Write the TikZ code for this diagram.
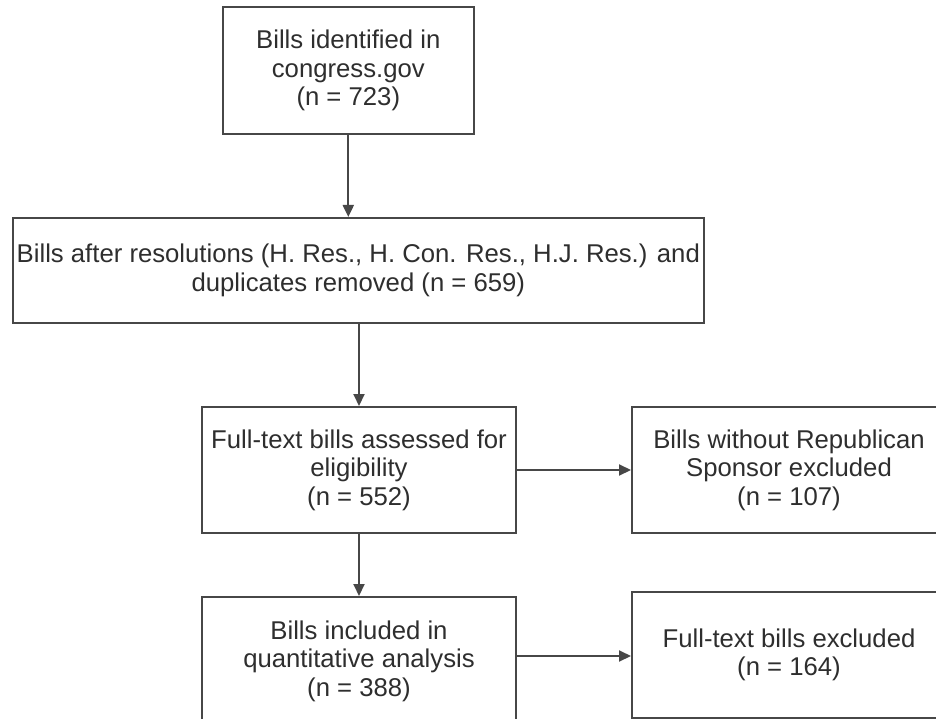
\documentclass[tikz,border=0pt]{standalone}
\usepackage{fontspec}
\setmainfont{Liberation Sans}
\usetikzlibrary{arrows.meta}
\definecolor{linec}{HTML}{474747}
\definecolor{textc}{HTML}{2E2E2E}
\tikzset{
  box/.style={draw=linec, line width=2pt, fill=white, align=center, text=textc,
    font=\fontsize{25.7pt}{28.6pt}\selectfont, inner sep=0pt},
  conn/.style={draw=linec, line width=2pt, -{Triangle[length=12pt,width=11pt]}}
}
\begin{document}
\begin{tikzpicture}[x=1pt,y=-1pt]
\useasboundingbox[fill=white] (0,0) rectangle (936,719);
\clip (0,0) rectangle (936,719);
\node[box, minimum width=251pt, minimum height=127pt] (a) at (348.3,70.5)
  {Bills identified in\\congress.gov\\(n = 723)};
\node[box, minimum width=691pt, minimum height=105pt] (b) at (358.3,270.5)
  {Bills after resolutions (H. Res., H. Con. Res., H.J. Res.) and\\duplicates removed (n = 659)};
\node[box, minimum width=314pt, minimum height=126pt] (c) at (359,470)
  {Full-text bills assessed for\\eligibility\\(n = 552)};
\node[box, minimum width=314pt, minimum height=126pt] (d) at (789,470)
  {Bills without Republican\\Sponsor excluded\\(n = 107)};
\node[box, minimum width=314pt, minimum height=128pt] (e) at (359,661)
  {Bills included in\\quantitative analysis\\(n = 388)};
\node[box, minimum width=314pt, minimum height=126pt] (f) at (789,655)
  {Full-text bills excluded\\(n = 164)};
\draw[conn] (a.south) -- (a.south |- b.north);
\draw[conn] (b.south -| c.north) -- (c.north);
\draw[conn] (c.south) -- (e.north);
\draw[conn] (c.east) -- (c.east -| d.west);
\draw[conn] (e.east |- 0,656) -- (d.west |- 0,656);
\end{tikzpicture}
\end{document}
